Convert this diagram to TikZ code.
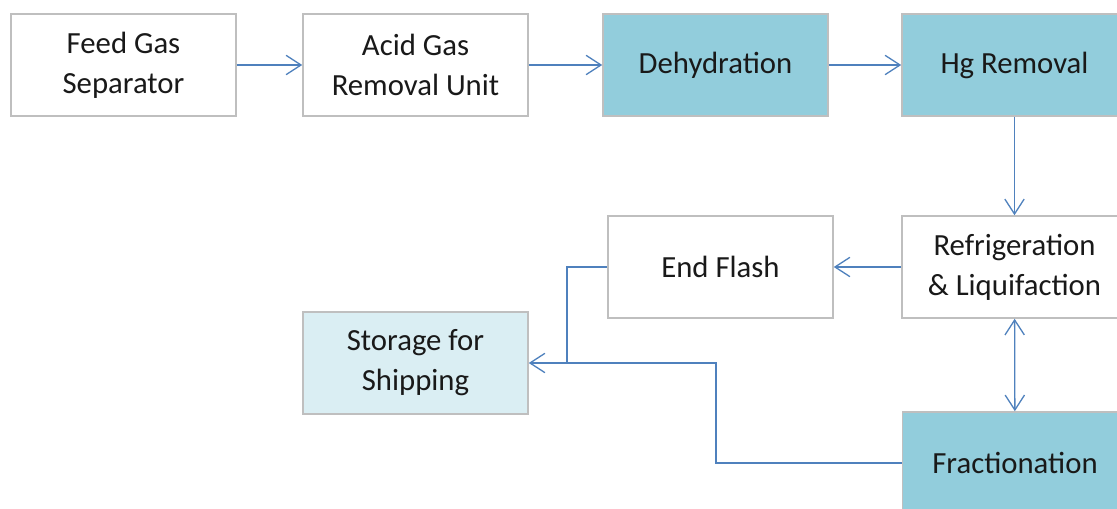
\documentclass[tikz,border=0pt]{standalone}
\usepackage{fontspec}
\setmainfont{Carlito}
\usetikzlibrary{arrows.meta,positioning}
\definecolor{boxline}{RGB}{191,191,191}
\definecolor{darkfill}{RGB}{146,205,220}
\definecolor{lightfill}{RGB}{218,238,243}
\definecolor{flowblue}{RGB}{79,129,189}
\tikzset{
  unit/.style={draw=boxline, line width=0.9pt, fill=white, minimum width=4.5cm, minimum height=2.04cm,
    align=center, text=black!90, font=\fontsize{17.5}{22.7}\selectfont},
  hotunit/.style={unit, fill=darkfill},
  coldunit/.style={unit, fill=lightfill},
  flow/.style={draw=flowblue, line width=0.75pt, -{Straight Barb[length=8.5pt,width=11pt]}},
  twoway/.style={flow, {Straight Barb[length=8.5pt,width=11pt]}-{Straight Barb[length=8.5pt,width=11pt]}}
}
\begin{document}
\begin{tikzpicture}[x=0.02cm, y=-0.02cm]
\useasboundingbox (0,0) rectangle (1117,509);
\clip (0,0) rectangle (1117,509);
% Top row
\node[unit] (feed) at (123.5,65) {Feed Gas\\Separator};
\node[unit] (agru) at (415.5,65) {Acid Gas\\Removal Unit};
\node[hotunit] (dehy) at (715.5,65) {Dehydration};
\node[hotunit] (hg) at (1014.5,65) {Hg Removal};
% Lower units
\node[unit] (refl) at (1014.5,267) {Refrigeration\\\& Liquifaction};
\node[unit] (endf) at (720.5,267) {End Flash};
\node[coldunit] (stor) at (415.5,363) {Storage for\\Shipping};
\node[hotunit] (frac) at (1015,463) {Fractionation};
% Flow lines
\draw[flow] (feed) -- (agru);
\draw[flow] (agru) -- (dehy);
\draw[flow] (dehy) -- (hg);
\draw[flow] (hg) -- (refl);
\draw[flow] (refl) -- (endf);
\draw[twoway] (refl) -- (frac);
\coordinate (tee) at (567,363);
\coordinate (bend) at (716,363);
\draw[flow] (endf.west) -| (tee) -- (stor.east);
\draw[draw=flowblue, line width=0.75pt] (frac.west) -| (bend) -- (tee);
\end{tikzpicture}
\end{document}
